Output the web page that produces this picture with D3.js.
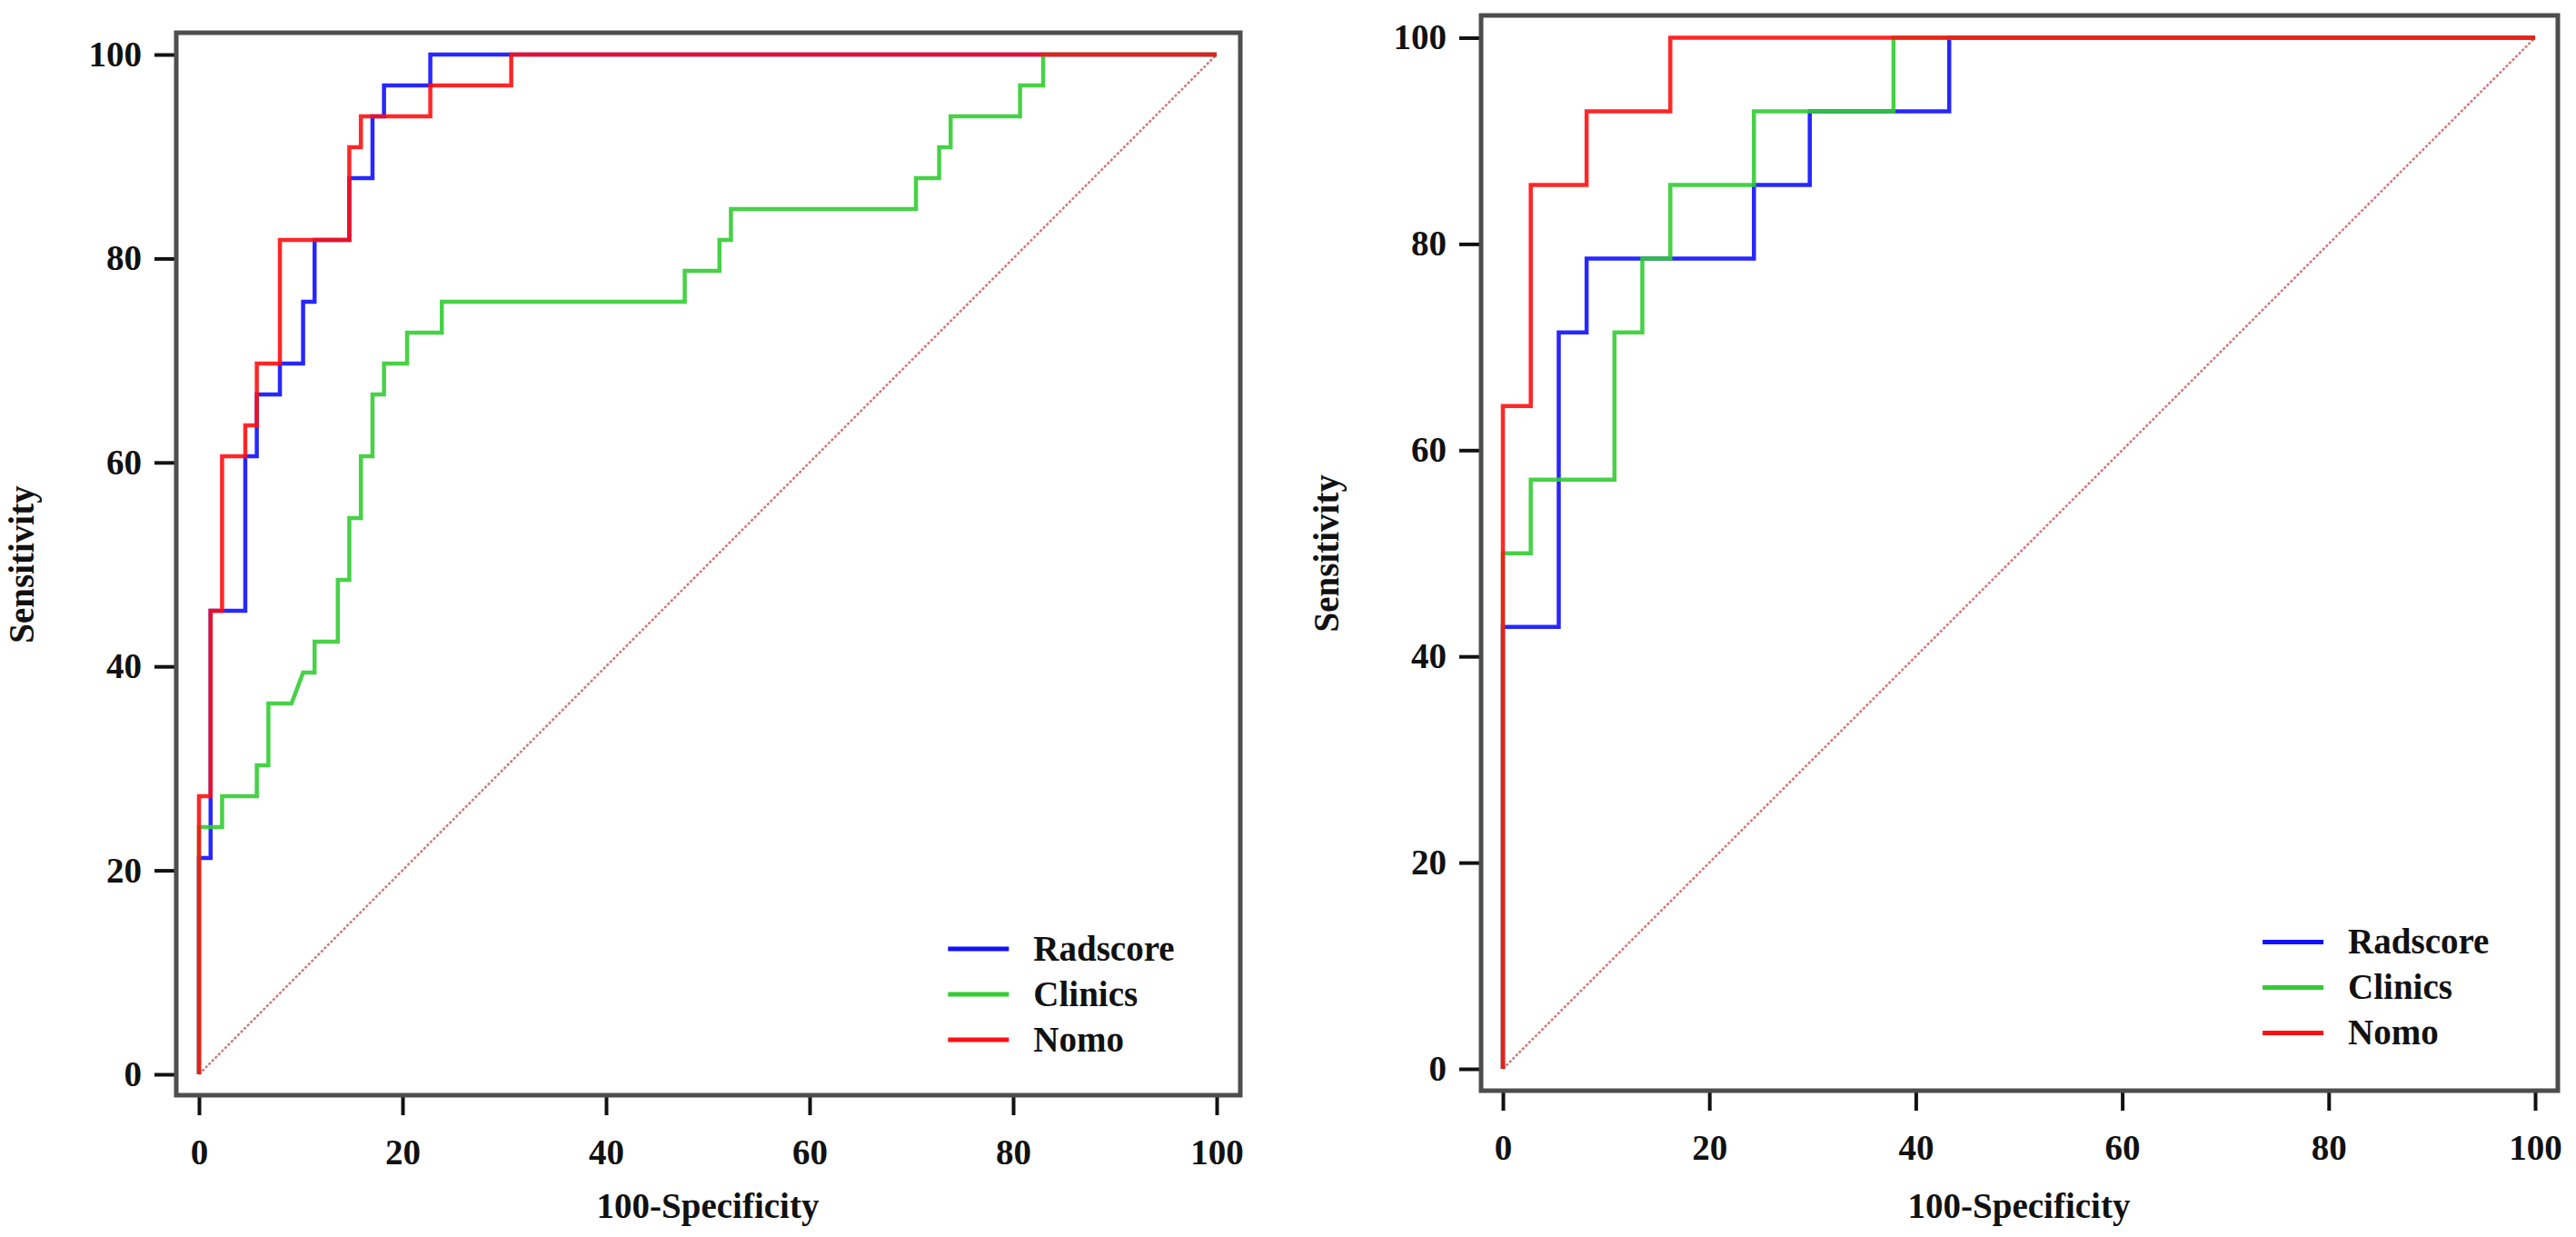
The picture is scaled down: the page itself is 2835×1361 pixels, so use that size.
<!DOCTYPE html>
<html lang="en">
<head>
    <meta charset="UTF-8">
    <title>ROC curves - Radscore / Clinics / Nomo</title>
    <script src="https://d3js.org/d3.v7.min.js"></script>
    <style>
        html, body { margin: 0; padding: 0; background: #fff; }
        svg { display: block; }
        .tick text, .axis-title, .legend-text {
            font-family: "Liberation Serif", "Times New Roman", serif;
            font-weight: bold;
            fill: #111;
        }
    </style>
</head>
<body>
<div id="chart"></div>
<script>
    // series names and colours
    const seriesNames = ["Radscore", "Clinics", "Nomo"];
    const seriesColors = ["#1010ff", "#33cc33", "#ff1010"];
    const tickValues = [0, 20, 40, 60, 80, 100];

    // left panel: ROC points (100-Specificity, Sensitivity)
    const leftRadscoreFpr = [0, 0, 1.14, 1.14, 4.55, 4.55, 5.68, 5.68, 7.95, 7.95, 10.23, 10.23, 11.36, 11.36, 14.77, 14.77, 17.05, 17.05, 18.18, 18.18, 22.73, 22.73, 100];
    const leftRadscoreTpr = [0, 21.21, 21.21, 45.45, 45.45, 60.61, 60.61, 66.67, 66.67, 69.70, 69.70, 75.76, 75.76, 81.82, 81.82, 87.88, 87.88, 93.94, 93.94, 96.97, 96.97, 100, 100];

    const leftClinicsFpr = [0, 0, 2.27, 2.27, 5.68, 5.68, 6.82, 6.82, 9.09, 10.23, 11.36, 11.36, 13.64, 13.64, 14.77, 14.77, 15.91, 15.91, 17.05, 17.05, 18.18, 18.18, 20.45, 20.45, 23.86, 23.86, 47.73, 47.73, 51.14, 51.14, 52.27, 52.27, 70.45, 70.45, 72.73, 72.73, 73.86, 73.86, 80.68, 80.68, 82.95, 82.95, 100];
    const leftClinicsTpr = [0, 24.24, 24.24, 27.27, 27.27, 30.30, 30.30, 36.36, 36.36, 39.39, 39.39, 42.42, 42.42, 48.48, 48.48, 54.55, 54.55, 60.61, 60.61, 66.67, 66.67, 69.70, 69.70, 72.73, 72.73, 75.76, 75.76, 78.79, 78.79, 81.82, 81.82, 84.85, 84.85, 87.88, 87.88, 90.91, 90.91, 93.94, 93.94, 96.97, 96.97, 100, 100];

    const leftNomoFpr = [0, 0, 1.14, 1.14, 2.27, 2.27, 4.55, 4.55, 5.68, 5.68, 7.95, 7.95, 14.77, 14.77, 15.91, 15.91, 22.73, 22.73, 30.68, 30.68, 100];
    const leftNomoTpr = [0, 27.27, 27.27, 45.45, 45.45, 60.61, 60.61, 63.64, 63.64, 69.70, 69.70, 81.82, 81.82, 90.91, 90.91, 93.94, 93.94, 96.97, 96.97, 100, 100];

    // right panel
    const rightRadscoreFpr = [0, 0, 5.41, 5.41, 8.11, 8.11, 24.32, 24.32, 29.73, 29.73, 43.24, 43.24, 100];
    const rightRadscoreTpr = [0, 42.86, 42.86, 71.43, 71.43, 78.57, 78.57, 85.71, 85.71, 92.86, 92.86, 100, 100];

    const rightClinicsFpr = [0, 0, 2.70, 2.70, 10.81, 10.81, 13.51, 13.51, 16.22, 16.22, 24.32, 24.32, 37.84, 37.84, 100];
    const rightClinicsTpr = [0, 50, 50, 57.14, 57.14, 71.43, 71.43, 78.57, 78.57, 85.71, 85.71, 92.86, 92.86, 100, 100];

    const rightNomoFpr = [0, 0, 2.70, 2.70, 8.11, 8.11, 16.22, 16.22, 100];
    const rightNomoTpr = [0, 64.29, 64.29, 85.71, 85.71, 92.86, 92.86, 100, 100];

    const W = 2835, H = 1361;

    const svg = d3.select("#chart").append("svg")
        .attr("width", W)
        .attr("height", H);

    svg.append("rect").attr("width", W).attr("height", H).attr("fill", "#fff");

    // zip two arrays into points
    function toPoints(fpr, tpr) {
        return fpr.map((f, i) => ({ x: f, y: tpr[i] }));
    }

    function drawPanel(frame, xRange, yRange, curves) {
        const x = d3.scaleLinear().domain([0, 100]).range(xRange);
        const y = d3.scaleLinear().domain([0, 100]).range(yRange);
        const g = svg.append("g");

        // axes (domain line replaced by the frame)
        const yAxis = g.append("g")
            .attr("transform", `translate(${frame.x0},0)`)
            .call(d3.axisLeft(y).tickValues(tickValues).tickSize(24).tickPadding(14));
        const xAxis = g.append("g")
            .attr("transform", `translate(0,${frame.y1})`)
            .call(d3.axisBottom(x).tickValues(tickValues).tickSize(22).tickPadding(26));
        [xAxis, yAxis].forEach(a => {
            a.select(".domain").remove();
            a.selectAll(".tick line").attr("stroke", "#111").attr("stroke-width", 4);
            a.selectAll(".tick text").style("font-size", "39px");
        });

        // reference diagonal
        g.append("line")
            .attr("x1", x(0)).attr("y1", y(0))
            .attr("x2", x(100)).attr("y2", y(100))
            .attr("stroke", "#cc7a7a")
            .attr("stroke-width", 2.5)
            .attr("stroke-dasharray", "3,2");

        const line = d3.line().x(d => x(d.x)).y(d => y(d.y));

        curves.forEach((c, i) => {
            g.append("path")
                .datum(toPoints(c[0], c[1]))
                .attr("fill", "none")
                .attr("stroke", seriesColors[i])
                .attr("stroke-opacity", 0.9)
                .attr("stroke-width", 4.5)
                .attr("d", line);
        });

        // frame
        g.append("rect")
            .attr("x", frame.x0).attr("y", frame.y0)
            .attr("width", frame.x1 - frame.x0)
            .attr("height", frame.y1 - frame.y0)
            .attr("fill", "none")
            .attr("stroke", "#4d4d4d")
            .attr("stroke-width", 5);

        // axis titles
        g.append("text")
            .attr("class", "axis-title")
            .attr("x", (xRange[0] + xRange[1]) / 2)
            .attr("y", 1340)
            .attr("text-anchor", "middle")
            .style("font-size", "39px")
            .text("100-Specificity");

        g.append("text")
            .attr("class", "axis-title")
            .attr("transform", `translate(${frame.x0 - 157},${(yRange[0] + yRange[1]) / 2}) rotate(-90)`)
            .attr("text-anchor", "middle")
            .style("font-size", "39px")
            .text("Sensitivity");

        // legend
        const lx = x(73.6), ly = y(12.3);
        seriesNames.forEach((name, i) => {
            g.append("line")
                .attr("x1", lx).attr("x2", lx + 67)
                .attr("y1", ly + i * 50).attr("y2", ly + i * 50)
                .attr("stroke", seriesColors[i])
                .attr("stroke-width", 5);
            g.append("text")
                .attr("class", "legend-text")
                .attr("x", lx + 94)
                .attr("y", ly + i * 50 + 13)
                .style("font-size", "39px")
                .text(name);
        });
    }

    drawPanel({ x0: 194, y0: 36, x1: 1365, y1: 1205 }, [219, 1339], [1182, 60], [
        [leftRadscoreFpr, leftRadscoreTpr],
        [leftClinicsFpr, leftClinicsTpr],
        [leftNomoFpr, leftNomoTpr]
    ]);

    drawPanel({ x0: 1630, y0: 17, x1: 2815, y1: 1200 }, [1654, 2790], [1176, 41.5], [
        [rightRadscoreFpr, rightRadscoreTpr],
        [rightClinicsFpr, rightClinicsTpr],
        [rightNomoFpr, rightNomoTpr]
    ]);
</script>
</body>
</html>
